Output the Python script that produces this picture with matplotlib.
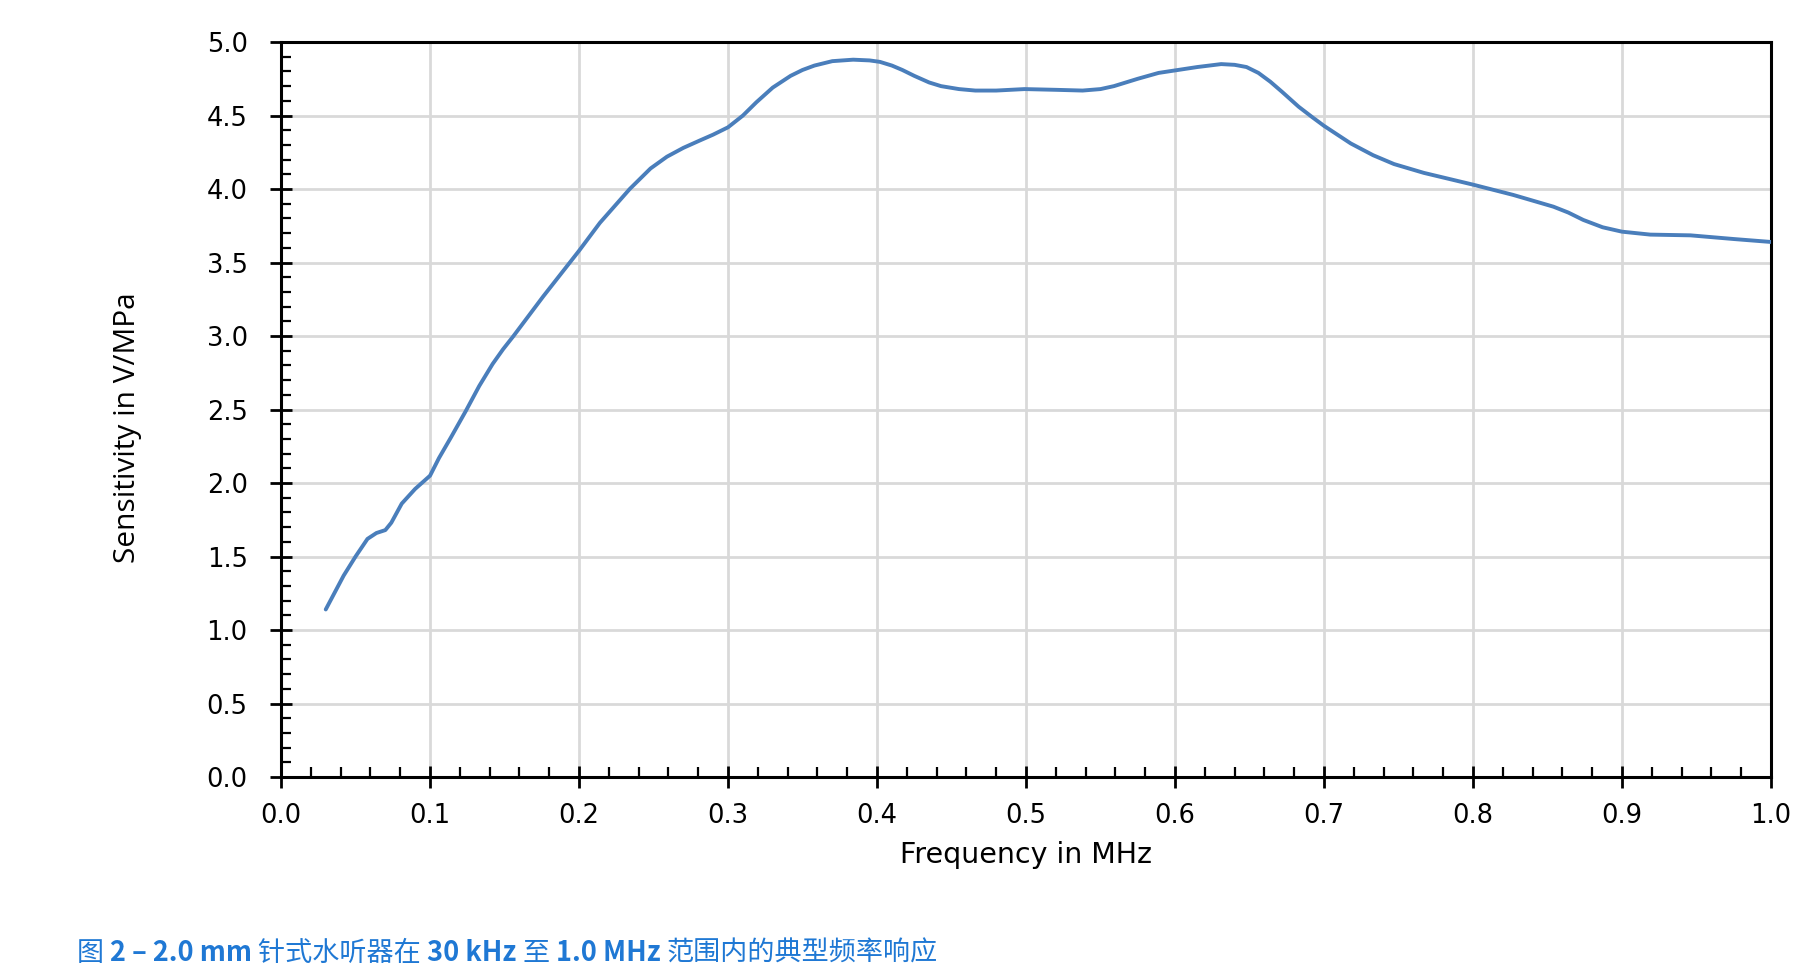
import numpy as np
import matplotlib
matplotlib.use("Agg")
import matplotlib.pyplot as plt
from matplotlib.ticker import MultipleLocator

# frequency response (MHz, V/MPa)
freq_mhz = [0.030, 0.042, 0.050, 0.058, 0.064, 0.070, 0.074, 0.081, 0.090, 0.100,
            0.106, 0.114, 0.124, 0.133, 0.142, 0.149, 0.156, 0.176, 0.200, 0.214,
            0.234, 0.248, 0.259, 0.270, 0.281, 0.290, 0.300, 0.310, 0.319, 0.330,
            0.342, 0.350, 0.358, 0.370, 0.384, 0.395, 0.402, 0.410, 0.417, 0.425,
            0.435, 0.443, 0.455, 0.466, 0.480, 0.499, 0.520, 0.538, 0.550, 0.559,
            0.575, 0.589, 0.602, 0.615, 0.631, 0.640, 0.648, 0.656, 0.664, 0.672,
            0.683, 0.692, 0.700, 0.718, 0.733, 0.747, 0.767, 0.800, 0.827, 0.854,
            0.864, 0.874, 0.887, 0.900, 0.919, 0.946, 0.975, 1.000]
sensitivity = [1.14, 1.37, 1.50, 1.62, 1.66, 1.68, 1.73, 1.86, 1.96, 2.05,
               2.17, 2.31, 2.49, 2.66, 2.81, 2.91, 3.00, 3.27, 3.58, 3.77,
               4.00, 4.14, 4.22, 4.28, 4.33, 4.37, 4.42, 4.50, 4.59, 4.69,
               4.77, 4.81, 4.84, 4.87, 4.88, 4.875, 4.865, 4.84, 4.81, 4.77,
               4.725, 4.70, 4.68, 4.67, 4.67, 4.68, 4.675, 4.67, 4.68, 4.70,
               4.75, 4.79, 4.81, 4.83, 4.85, 4.845, 4.83, 4.79, 4.73, 4.66,
               4.56, 4.49, 4.43, 4.31, 4.23, 4.17, 4.11, 4.03, 3.96, 3.88,
               3.84, 3.79, 3.74, 3.71, 3.69, 3.685, 3.66, 3.64]

x_ticks = [0.0, 0.1, 0.2, 0.3, 0.4, 0.5, 0.6, 0.7, 0.8, 0.9, 1.0]
y_ticks = [0.0, 0.5, 1.0, 1.5, 2.0, 2.5, 3.0, 3.5, 4.0, 4.5, 5.0]

caption_parts = [
    ("图 ", "normal"),
    ("2 – 2.0 mm ", "bold"),
    ("针式水听器在 ", "normal"),
    ("30 kHz ", "bold"),
    ("至 ", "normal"),
    ("1.0 MHz ", "bold"),
    ("范围内的典型频率响应", "normal"),
]

fig = plt.figure(figsize=(17.97, 9.80), dpi=100)
ax = fig.add_axes([0.1564, 0.2071, 0.8291, 0.7500])

ax.plot(freq_mhz, sensitivity, color="#4a7ebb", lw=2.8, solid_capstyle="round",
        solid_joinstyle="round", zorder=3)

ax.set_xlim(0, 1.0)
ax.set_ylim(0, 5.0)
ax.set_xticks(x_ticks)
ax.set_yticks(y_ticks)
ax.set_xticklabels([f"{v:.1f}" for v in x_ticks])
ax.set_yticklabels([f"{v:.1f}" for v in y_ticks])
ax.xaxis.set_minor_locator(MultipleLocator(0.02))
ax.yaxis.set_minor_locator(MultipleLocator(0.1))

ax.grid(True, which="major", color="#d9d9d9", lw=2.0, zorder=0)
ax.set_axisbelow(True)

for s in ax.spines.values():
    s.set_linewidth(2.2)
    s.set_color("black")

ax.tick_params(which="major", direction="inout", length=16, width=2.0,
               labelsize=18.5)
ax.tick_params(axis="x", which="major", pad=11)
ax.tick_params(axis="y", which="major", pad=16)
ax.tick_params(which="minor", direction="in", length=7.5, width=1.6)
for lab in ax.get_xticklabels() + ax.get_yticklabels():
    lab.set_family("DejaVu Sans")

ax.set_xlabel("Frequency in MHz", fontsize=20.5, family="DejaVu Sans", labelpad=8)
ax.set_ylabel("Sensitivity in V/MPa", fontsize=21.5,
              family=["Liberation Sans Narrow", "Open Sans", "DejaVu Sans"])
ax.yaxis.set_label_coords(-0.093, 0.475)

# caption: mixed weights, chained piece by piece
cap_color = "#1f78d4"
prev = fig.text(77 / 1797, 1 - 953 / 980, caption_parts[0][0], fontsize=19.5,
                color=cap_color, weight=caption_parts[0][1], va="center",
                family=["Noto Sans CJK SC", "DejaVu Sans"])
for txt, wt in caption_parts[1:]:
    prev = ax.annotate(txt, xy=(1, 0.5), xycoords=prev, va="center", ha="left",
                       fontsize=19.5, color=cap_color, weight=wt,
                       family=["Noto Sans CJK SC", "DejaVu Sans"],
                       annotation_clip=False)

fig.savefig("out.png", dpi=100)
